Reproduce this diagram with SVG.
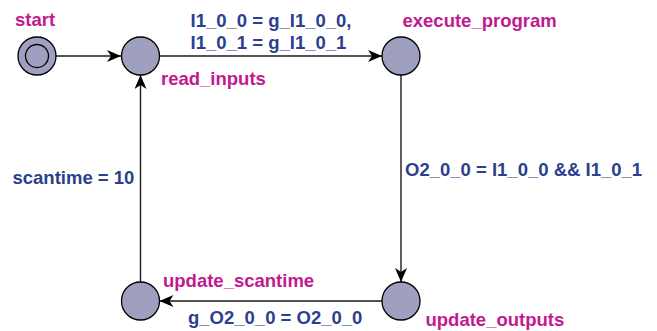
<svg xmlns="http://www.w3.org/2000/svg" width="657" height="331" viewBox="0 0 657 331">
  <style>
    .loc { fill: #9f9fbf; stroke: #000; stroke-width: 1.3; }
    .name { font-family: "Liberation Sans", Arial, sans-serif; font-weight: bold; font-size: 18.5px; fill: #c2198f; }
    .label { font-family: "Liberation Sans", Arial, sans-serif; font-weight: bold; font-size: 18.5px; fill: #2b3f8e; }
    .edge { stroke: #1a1a1a; stroke-width: 1.4; fill: none; marker-end: url(#arrow); }
  </style>
  <defs>
    <marker id="arrow" viewBox="0 0 14 12" refX="14" refY="6" markerWidth="14" markerHeight="12" markerUnits="userSpaceOnUse" orient="auto">
      <path d="M0,0 L14,6 L0,12 L4,6 Z" fill="#000"/>
    </marker>
  </defs>

  <g id="edges">
    <line class="edge" x1="56" y1="56" x2="121" y2="56"/>
    <line class="edge" x1="159.5" y1="56" x2="382" y2="56"/>
    <line class="edge" x1="401" y1="75" x2="401" y2="282"/>
    <line class="edge" x1="382" y1="301" x2="159.5" y2="301"/>
    <line class="edge" x1="140.5" y1="282" x2="140.5" y2="75"/>
    <text class="label" x="190.5" y="27">I1_0_0 = g_I1_0_0,</text>
    <text class="label" x="190.5" y="48.5">I1_0_1 = g_I1_0_1</text>
    <text class="label" x="405" y="176">O2_0_0 = I1_0_0 &amp;&amp; I1_0_1</text>
    <text class="label" x="188" y="324">g_O2_0_0 = O2_0_0</text>
    <text class="label" x="12.5" y="184">scantime = 10</text>
  </g>

  <g id="start">
    <circle class="loc" cx="37" cy="56" r="19"/>
    <circle class="loc" cx="37" cy="56" r="11.5"/>
    <text class="name" x="15" y="25.5">start</text>
  </g>
  <g id="read_inputs">
    <circle class="loc" cx="140.5" cy="56" r="19"/>
    <text class="name" x="161" y="84.5">read_inputs</text>
  </g>
  <g id="execute_program">
    <circle class="loc" cx="401" cy="56" r="19"/>
    <text class="name" x="402.5" y="27">execute_program</text>
  </g>
  <g id="update_outputs">
    <circle class="loc" cx="401" cy="301" r="19"/>
    <text class="name" x="425.5" y="326">update_outputs</text>
  </g>
  <g id="update_scantime">
    <circle class="loc" cx="140.5" cy="301" r="19"/>
    <text class="name" x="163" y="286.5">update_scantime</text>
  </g>
</svg>
